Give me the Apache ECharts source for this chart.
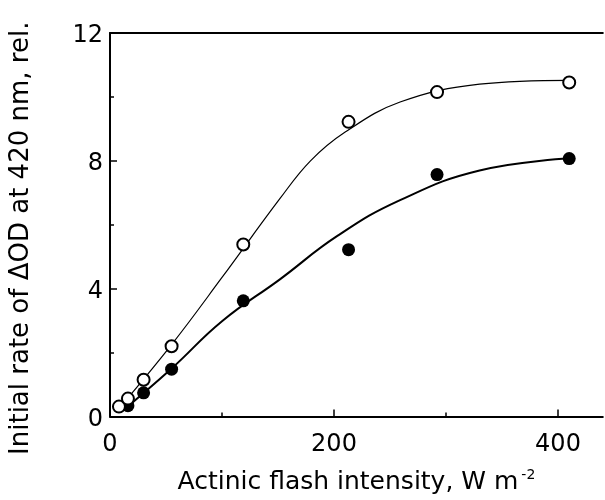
<!DOCTYPE html>
<html>
<head>
<meta charset="utf-8">
<script src="https://cdn.jsdelivr.net/npm/echarts@6/dist/echarts.min.js"></script>
<style>html,body{margin:0;padding:0;background:#fff}#c{width:605px;height:500px}</style>
</head>
<body>
<div id="c"></div>
<script>
// Measured points
var openX = [8, 16, 30, 55, 119, 213, 292, 410];
var openY = [0.31, 0.56, 1.15, 2.2, 5.38, 9.22, 10.15, 10.45];
var filledX = [16, 30, 55, 119, 213, 292, 410];
var filledY = [0.34, 0.74, 1.48, 3.62, 5.22, 7.57, 8.07];
// Fitted curves
var upperCurveX = [8, 55, 100, 152, 179, 210, 259, 330, 410];
var upperCurveY = [0.25, 2.25, 4.35, 6.83, 8.0, 8.9, 9.84, 10.4, 10.52];
var lowerCurveX = [12, 55, 100, 152, 203, 259, 330, 410];
var lowerCurveY = [0.2, 1.5, 2.98, 4.3, 5.65, 6.77, 7.7, 8.07];
var xMajorTicks = [0, 200, 400];
var xMinorTicks = [100, 300];
var xAxisTitle = 'Actinic flash intensity, W m';
var xAxisTitleSup = '-2';
var yAxisTitle = 'Initial rate of \u0394OD at 420 nm, rel.';

function zip(a, b) { return a.map(function (v, i) { return [v, b[i]]; }); }

var chart = echarts.init(document.getElementById('c'));
var font = '"DejaVu Sans", Verdana, sans-serif';
var lineStyleAxis = { color: '#000', width: 2 };
chart.setOption({
  animation: false,
  grid: { left: 110, right: 2.2, top: 33, bottom: 80 },
  xAxis: [
    {
      type: 'value', position: 'bottom', min: 0, max: 440, interval: 200,
      splitLine: { show: false },
      axisLine: { lineStyle: lineStyleAxis },
      axisTick: { inside: true, length: 7, customValues: xMajorTicks, lineStyle: { color: '#000', width: 1.5 } },
      axisLabel: { customValues: xMajorTicks, color: '#000', fontSize: 24, fontFamily: font, margin: 16 },
      name: '{t|' + xAxisTitle + '}{s|' + xAxisTitleSup + '}',
      nameLocation: 'middle', nameGap: 52,
      nameTextStyle: {
        rich: {
          t: { fontSize: 25, fontFamily: font, color: '#000' },
          s: { fontSize: 14, fontFamily: font, color: '#000', verticalAlign: 'top', padding: [0, 0, 14, 3] }
        }
      }
    },
    {
      type: 'value', position: 'bottom', min: 0, max: 440,
      splitLine: { show: false },
      axisLine: { show: false },
      axisTick: { inside: true, length: 4, customValues: xMinorTicks, lineStyle: { color: '#000', width: 1.5 } },
      axisLabel: { show: false }
    },
    {
      type: 'value', position: 'top', min: 0, max: 440,
      splitLine: { show: false },
      axisLine: { lineStyle: lineStyleAxis },
      axisTick: { show: false },
      axisLabel: { show: false }
    }
  ],
  yAxis: {
    type: 'value', min: 0, max: 12, interval: 4,
    splitLine: { show: false },
    axisLine: { lineStyle: lineStyleAxis },
    axisTick: { inside: true, length: 7, lineStyle: { color: '#000', width: 1.5 } },
    minorTick: { show: true, splitNumber: 2, length: 4, lineStyle: { color: '#000', width: 1.5 } },
    axisLabel: {
      color: '#000', margin: 7, formatter: '{a|{value}}',
      rich: { a: { fontSize: 24, fontFamily: font, color: '#000', padding: [6, 0, 0, 0] } }
    },
    name: yAxisTitle, nameLocation: 'middle', nameGap: 76,
    nameTextStyle: { fontSize: 26, fontFamily: font, color: '#000', padding: [0, 27, 0, 0] }
  },
  series: [
    {
      type: 'line', data: zip(upperCurveX, upperCurveY), smooth: 0.4, symbol: 'none',
      lineStyle: { color: '#000', width: 1.2 }, z: 2
    },
    {
      type: 'line', data: zip(lowerCurveX, lowerCurveY), smooth: 0.45, symbol: 'none',
      lineStyle: { color: '#000', width: 2 }, z: 2
    },
    {
      type: 'scatter', data: zip(filledX, filledY), symbol: 'circle', symbolSize: 13,
      itemStyle: { color: '#000', opacity: 1 }, z: 3
    },
    {
      type: 'scatter', data: zip(openX, openY), symbol: 'circle', symbolSize: 12,
      itemStyle: { color: '#fff', borderColor: '#000', borderWidth: 2, opacity: 1 }, z: 4
    }
  ]
});
</script>
</body>
</html>
